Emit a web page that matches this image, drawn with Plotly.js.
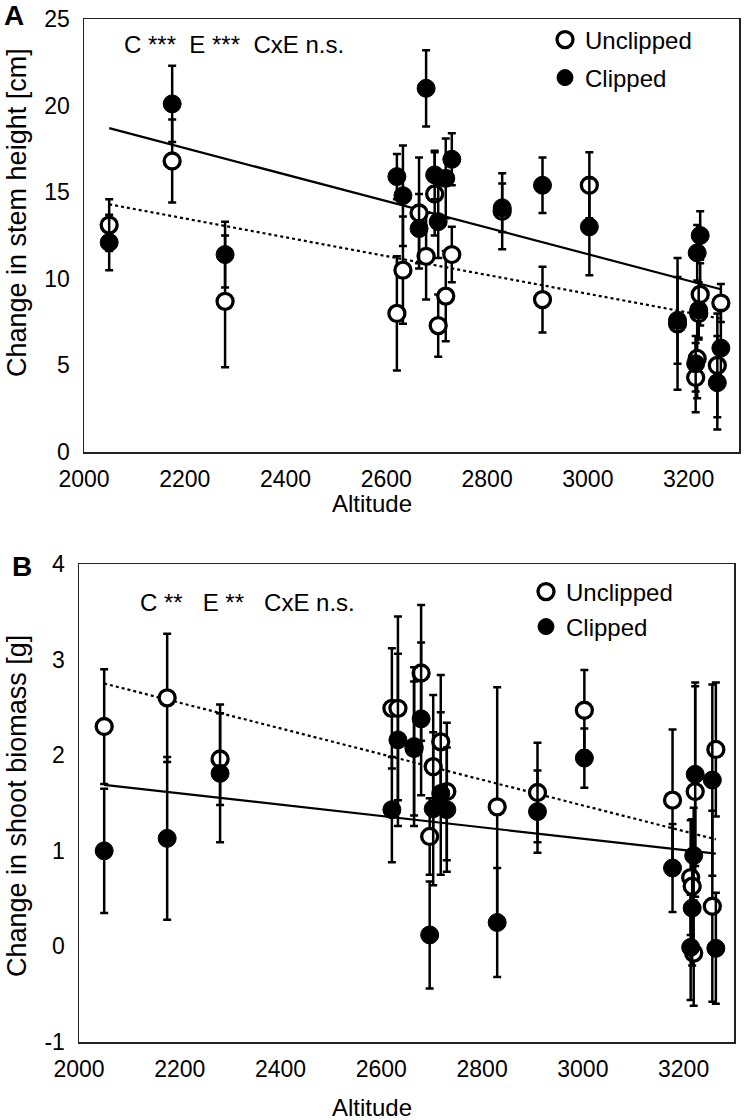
<!DOCTYPE html>
<html>
<head>
<meta charset="utf-8">
<script src="https://cdn.plot.ly/plotly-3.0.1.min.js"></script>
<style>html,body{margin:0;padding:0;background:#fff;}#chart{width:744px;height:1120px;}</style>
</head>
<body>
<div id="chart"></div>
<script>
// Sites (altitude, m)
const altitude = [2050, 2175, 2280, 2621, 2633, 2665, 2679, 2696, 2703, 2718, 2730, 2830, 2910, 3003, 3178, 3214, 3217, 3220, 3223, 3257, 3264];

// Panel A: change in stem height [cm]
const stemUnclipped    = [13.1, 16.8, 8.7, 8.0, 10.5, 13.8, 11.3, 14.9, 7.3, 9.0, 11.4, 13.9, 8.8, 15.4, 7.4, 4.3, 5.4, 8.0, 9.1, 5.0, 8.6];
const stemUnclippedErr = [1.5, 2.4, 3.8, 3.3, 3.1, 3.2, 2.5, 2.4, 1.8, 2.6, 1.6, 2.2, 1.9, 1.9, 3.8, 2.0, 2.3, 1.5, 1.8, 3.0, 1.1];
const stemClipped      = [12.1, 20.1, 11.4, 15.9, 14.8, 12.9, 21.0, 16.0, 13.3, 15.8, 16.9, 14.1, 15.4, 13.0, 7.6, 5.1, 11.5, 8.2, 12.5, 4.0, 6.0];
const stemClippedErr   = [1.6, 2.2, 1.9, 1.3, 2.9, 2.0, 2.2, 1.4, 2.1, 2.3, 1.5, 1.4, 1.6, 2.8, 2.5, 1.6, 1.6, 1.6, 1.4, 2.7, 2.2];

// Panel B: change in shoot biomass [g]
const bioUnclipped    = [2.30, 2.60, 1.96, 2.49, 2.49, 2.07, 2.86, 1.15, 1.88, 2.14, 1.62, 1.46, 1.61, 2.47, 1.53, 0.72, 0.63, -0.07, 1.62, 0.42, 2.06];
const bioUnclippedErr = [0.60, 0.67, 0.48, 0.63, 0.96, 0.70, 0.71, 0.40, 0.75, 0.70, 0.72, 1.25, 0.52, 0.42, 0.74, 0.60, 0.70, 0.55, 1.10, 1.00, 0.70];
const bioClipped      = [1.00, 1.13, 1.81, 1.43, 2.16, 2.09, 2.38, 0.12, 1.44, 1.60, 1.43, 0.25, 1.41, 1.97, 0.82, -0.01, 0.40, 0.95, 1.80, 1.74, -0.02];
const bioClippedErr   = [0.65, 0.85, 0.72, 0.55, 0.90, 0.83, 0.80, 0.56, 0.80, 0.85, 0.65, 0.57, 0.43, 0.31, 0.46, 0.55, 0.60, 0.50, 0.96, 1.00, 0.58];

// Linear trend lines (endpoints)
const trendAlt = [2050, 3264];
const stemTrendUnclipped = [14.3, 7.7];
const stemTrendClipped   = [18.7, 9.4];
const bioTrendUnclipped  = [2.75, 1.12];
const bioTrendClipped    = [1.69, 0.97];

// Ticks and labels
const xTicks = [2000, 2200, 2400, 2600, 2800, 3000, 3200];
const yTicksA = [0, 5, 10, 15, 20, 25];
const yTicksB = [-1, 0, 1, 2, 3, 4];
const yTickTextB = ['-1', '0', '1', '2', '3', '4'];
const xTitle = 'Altitude';
const yTitleA = 'Change in stem height [cm]';
const yTitleB = 'Change in shoot biomass [g]';
const statsA = 'C\u00a0***\u00a0\u00a0E\u00a0***\u00a0\u00a0CxE n.s.';
const statsB = 'C\u00a0**\u00a0\u00a0\u00a0E\u00a0**\u00a0\u00a0\u00a0CxE n.s.';

const FONT = 'Liberation Sans, Arial, sans-serif';
const W = 744, H = 1120;
const px = x => x / W, py = y => 1 - y / H;

function errBar(arr) {
  return {type: 'data', array: arr, visible: true, color: '#000', thickness: 2.5, width: 4};
}
const openMarker = {symbol: 'circle', size: 16, color: '#fff', line: {color: '#000', width: 3.3}};
const fillMarker = {symbol: 'circle', size: 18, color: '#000', line: {color: '#000', width: 1}};

const traces = [
  // Panel A
  {x: trendAlt, y: stemTrendUnclipped, mode: 'lines', line: {color: '#000', width: 2.2, dash: 'dot'}, xaxis: 'x', yaxis: 'y', showlegend: false, hoverinfo: 'skip'},
  {x: trendAlt, y: stemTrendClipped, mode: 'lines', line: {color: '#000', width: 2.2}, xaxis: 'x', yaxis: 'y', showlegend: false, hoverinfo: 'skip'},
  {x: altitude, y: stemUnclipped, error_y: errBar(stemUnclippedErr), mode: 'markers', marker: openMarker, name: 'Unclipped', xaxis: 'x', yaxis: 'y', legend: 'legend'},
  {x: altitude, y: stemClipped, error_y: errBar(stemClippedErr), mode: 'markers', marker: fillMarker, name: 'Clipped', xaxis: 'x', yaxis: 'y', legend: 'legend2'},
  // Panel B
  {x: trendAlt, y: bioTrendUnclipped, mode: 'lines', line: {color: '#000', width: 2.2, dash: 'dot'}, xaxis: 'x2', yaxis: 'y2', showlegend: false, hoverinfo: 'skip'},
  {x: trendAlt, y: bioTrendClipped, mode: 'lines', line: {color: '#000', width: 2.2}, xaxis: 'x2', yaxis: 'y2', showlegend: false, hoverinfo: 'skip'},
  {x: altitude, y: bioUnclipped, error_y: errBar(bioUnclippedErr), mode: 'markers', marker: openMarker, name: 'Unclipped', xaxis: 'x2', yaxis: 'y2', legend: 'legend3'},
  {x: altitude, y: bioClipped, error_y: errBar(bioClippedErr), mode: 'markers', marker: fillMarker, name: 'Clipped', xaxis: 'x2', yaxis: 'y2', legend: 'legend4'}
];

const axisCommon = {
  showline: true, linecolor: '#222', linewidth: 1.5, mirror: true,
  showgrid: false, zeroline: false, ticks: '',
  tickfont: {family: FONT, size: 23, color: '#000'}
};

function legendAt(x, y) {
  return {x: px(x), y: py(y), xanchor: 'left', yanchor: 'middle', bgcolor: 'rgba(0,0,0,0)', borderwidth: 0,
          font: {family: FONT, size: 24, color: '#000'}, itemclick: false, itemdoubleclick: false};
}
function label(text, x, y, size, extra) {
  return Object.assign({text: text, x: px(x), y: py(y), xref: 'paper', yref: 'paper', xanchor: 'center', yanchor: 'middle',
    showarrow: false, font: {family: FONT, size: size, color: '#000'}}, extra || {});
}

const layout = {
  width: W, height: H,
  margin: {l: 0, r: 0, t: 0, b: 0},
  paper_bgcolor: '#fff', plot_bgcolor: '#fff',
  font: {family: FONT, color: '#000'},
  xaxis: Object.assign({}, axisCommon, {domain: [px(84), px(739)], range: [2000, 3300], tickvals: xTicks, ticklabelstandoff: 6, anchor: 'y'}),
  yaxis: Object.assign({}, axisCommon, {domain: [py(452), py(19)], range: [0, 25], tickvals: yTicksA, ticklabelstandoff: 8, anchor: 'x'}),
  xaxis2: Object.assign({}, axisCommon, {domain: [px(79), px(734)], range: [2000, 3300], tickvals: xTicks, ticklabelstandoff: 6, anchor: 'y2'}),
  yaxis2: Object.assign({}, axisCommon, {domain: [py(1042), py(564)], range: [-1, 4], tickvals: yTicksB, ticktext: yTickTextB, ticklabelstandoff: 8, anchor: 'x2'}),
  legend: legendAt(545, 40),
  legend2: legendAt(545, 78),
  legend3: legendAt(526, 592),
  legend4: legendAt(526, 627),
  annotations: [
    label('<b>A</b>', 14, 16, 28),
    label('<b>B</b>', 22, 566, 28),
    label(statsA, 122, 45, 24, {xanchor: 'left'}),
    label(statsB, 138, 602, 24, {xanchor: 'left'}),
    label(xTitle, 372, 503, 24),
    label(xTitle, 372, 1107, 24),
    label(yTitleA, 17, 213, 27, {textangle: -90}),
    label(yTitleB, 17, 806, 27, {textangle: -90})
  ],
  showlegend: true
};

Plotly.newPlot('chart', traces, layout, {displayModeBar: false, staticPlot: true});
</script>
</body>
</html>
